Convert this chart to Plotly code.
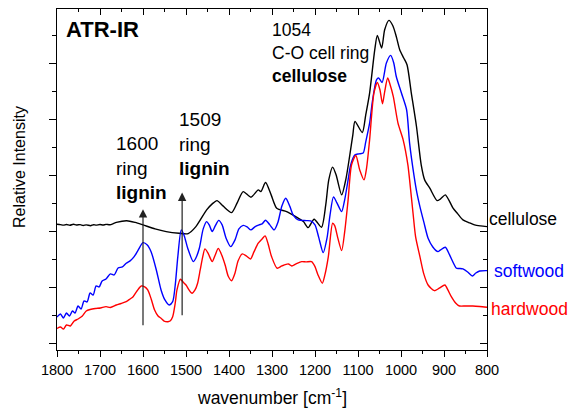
import plotly.graph_objects as go

# ---- data (wavenumber in cm^-1, relative intensity in arbitrary offset units) ----
cell_wn = [1800, 1792, 1785, 1778, 1770, 1762, 1755, 1746, 1739, 1732, 1722, 1715, 1709, 1700, 1693, 1686, 1677,
           1669, 1662, 1638, 1618, 1600, 1572, 1546, 1516, 1495, 1477, 1452, 1439, 1428, 1414, 1394, 1381,
           1367, 1349, 1332, 1326, 1315, 1302, 1289, 1266, 1243, 1227, 1216, 1202, 1185, 1175, 1168,
           1159, 1151, 1138, 1128, 1119, 1112, 1107, 1090, 1082, 1073, 1061, 1055, 1045, 1038, 1028,
           1019, 1011, 1003, 994, 986, 976, 964, 953, 945, 933, 916, 908, 897, 889, 879, 868, 856, 840,
           829, 815, 800]
cell_val = [2.127, 2.120, 2.110, 2.122, 2.108, 2.126, 2.114, 2.120, 2.104, 2.116, 2.100, 2.118, 2.110, 2.122, 2.112, 2.124, 2.118,
            2.138, 2.159, 2.190, 2.159, 2.115, 2.043, 1.995, 1.966, 1.959, 2.084, 2.383, 2.491, 2.550, 2.455, 2.335, 2.509,
            2.711, 2.611, 2.742, 2.711, 2.873, 2.652, 2.414, 2.353, 2.253, 2.174, 2.066, 2.217, 2.073, 2.473, 2.921,
            3.149, 3.011, 2.652, 2.940, 3.369, 3.728, 3.966, 3.769, 4.086, 4.475, 5.251, 5.507, 5.281, 5.609, 5.776,
            5.681, 5.489, 5.251, 5.107, 4.982, 4.475, 3.876, 3.190, 2.921, 2.772, 2.550, 2.581, 2.652, 2.563, 2.414, 2.312, 2.204, 2.150,
            2.115, 2.097, 2.084]

soft_wn = [1800, 1792, 1785, 1778, 1771, 1764, 1758, 1751, 1744, 1737, 1730, 1723, 1716, 1709, 1702, 1695, 1686,
           1676, 1667, 1658, 1648, 1639, 1630, 1621, 1611, 1600, 1590, 1581, 1569, 1558, 1549, 1539, 1531,
           1525, 1519, 1511, 1504, 1496, 1483, 1477, 1469, 1460, 1452, 1446, 1439, 1432, 1424, 1416, 1407,
           1396, 1386, 1377, 1367, 1358, 1349, 1340, 1330, 1323, 1315, 1305, 1295, 1286, 1277, 1268, 1258,
           1251, 1239, 1220, 1210, 1200, 1191, 1181, 1172, 1165, 1157, 1149, 1138, 1131, 1123, 1117, 1107,
           1098, 1088, 1082, 1073, 1066, 1057, 1052, 1044, 1034, 1024, 1017, 1011, 999, 987, 980, 970, 963,
           956, 947, 937, 926, 914, 908, 897, 887, 871, 864, 856, 845, 834, 826, 817, 800]
soft_val = [0.466, 0.520, 0.448, 0.538, 0.484, 0.573, 0.538, 0.663, 0.609, 0.753, 0.735, 0.896, 0.860, 1.021, 1.004, 1.111, 1.147,
            1.237, 1.219, 1.344, 1.362, 1.428, 1.470, 1.541, 1.667, 1.797, 1.756, 1.631, 1.308, 0.950, 0.771, 0.681, 0.740,
            1.039, 1.547, 2.025, 1.918, 1.697, 1.457, 1.523, 1.697, 2.043, 2.174, 2.115, 1.995, 2.097, 2.195, 2.115, 1.882,
            1.726, 1.846, 2.043, 2.106, 2.079, 2.025, 2.079, 2.115, 2.133, 2.199, 2.115, 2.025, 2.168, 2.455, 2.593, 2.437,
            2.294, 2.204, 2.192, 2.186, 2.115, 1.882, 1.618, 1.882, 2.294, 2.616, 2.509, 2.353, 2.563, 2.921, 3.190, 3.369,
            3.387, 3.400, 3.602, 3.937, 4.355, 4.713, 4.744, 4.665, 5.012, 5.149, 5.018, 4.772, 4.475, 4.176, 3.579, 3.011, 2.688,
            2.443, 2.168, 1.876, 1.720, 1.636, 1.667, 1.715, 1.577, 1.339, 1.335, 1.326, 1.272, 1.201, 1.254, 1.290, 1.296]

hard_wn = [1800, 1792, 1785, 1778, 1769, 1760, 1751, 1741, 1732, 1723, 1711, 1699, 1686, 1676, 1662, 1651, 1639,
           1630, 1623, 1614, 1604, 1596, 1589, 1581, 1573, 1565, 1558, 1551, 1542, 1537, 1531, 1525, 1521,
           1513, 1507, 1500, 1493, 1486, 1479, 1473, 1467, 1461, 1456, 1449, 1439, 1432, 1425, 1419, 1409,
           1402, 1394, 1386, 1379, 1369, 1360, 1350, 1342, 1332, 1323, 1316, 1309, 1301, 1288, 1277, 1262,
           1254, 1244, 1231, 1221, 1208, 1200, 1193, 1183, 1177, 1169, 1159, 1154, 1147, 1138, 1131, 1123,
           1115, 1105, 1096, 1086, 1080, 1073, 1063, 1055, 1049, 1043, 1038, 1031, 1026, 1018, 1007, 995,
           984, 980, 972, 966, 956, 947, 937, 922, 910, 898, 891, 883, 873, 864, 850, 833, 817, 800]
hard_val = [0.260, 0.287, 0.251, 0.323, 0.305, 0.394, 0.430, 0.484, 0.573, 0.600, 0.618, 0.627, 0.651, 0.636, 0.681, 0.708, 0.740,
            0.789, 0.830, 0.932, 1.021, 1.004, 0.950, 0.789, 0.591, 0.484, 0.443, 0.394, 0.382, 0.394, 0.471, 0.717, 0.950,
            1.142, 1.093, 1.039, 0.950, 0.891, 0.950, 1.070, 1.308, 1.547, 1.685, 1.613, 1.457, 1.577, 1.694, 1.613, 1.398,
            1.201, 1.116, 1.254, 1.470, 1.595, 1.559, 1.505, 1.631, 1.787, 1.864, 1.918, 1.774, 1.547, 1.339, 1.380, 1.416,
            1.380, 1.416, 1.457, 1.452, 1.457, 1.367, 1.219, 1.070, 1.219, 1.547, 2.145, 2.097, 1.882, 1.654, 1.989, 2.563,
            3.190, 3.357, 3.100, 2.921, 3.136, 3.638, 4.475, 4.665, 4.534, 4.283, 4.498, 4.744, 4.642, 4.414, 3.937, 3.638,
            3.190, 2.921, 2.324, 1.900, 1.547, 1.237, 1.039, 0.937, 0.986, 1.039, 0.950, 0.830, 0.717, 0.663, 0.663, 0.663, 0.654, 0.640]

series_names = ["cellulose", "softwood", "hardwood"]
series_colors = ["#000000", "#0000ff", "#ff0000"]
label_vals = [2.217, 1.296, 0.604]

arrow_wn = [1600, 1509]
arrow_tip = [2.396, 2.694]
arrow_base = [0.292, 0.471]

X_RANGE = [1800, 800]
Y_RANGE = [-0.125, 5.98]
FONT = "Liberation Sans, Arial, sans-serif"

fig = go.Figure()
for wn, val, name, col in zip([cell_wn, soft_wn, hard_wn], [cell_val, soft_val, hard_val], series_names, series_colors):
    fig.add_trace(go.Scatter(x=wn, y=val, mode="lines", name=name,
                             line=dict(color=col, width=1.4, shape="spline", smoothing=0.7),
                             showlegend=False, hoverinfo="skip"))
# dummy trace to activate mirrored axes
fig.add_trace(go.Scatter(x=[None], y=[None], xaxis="x2", yaxis="y2", showlegend=False, hoverinfo="skip"))

common = dict(showgrid=False, zeroline=False, showline=True, linecolor="black", linewidth=1.2, tickcolor="black")
fig.update_layout(
    width=575, height=410,
    margin=dict(l=57, r=88, t=9, b=60),
    paper_bgcolor="white", plot_bgcolor="white",
    font=dict(family=FONT, color="black"),
    hovermode=False,
    xaxis=dict(range=X_RANGE, dtick=100, tick0=800, ticks="outside", ticklen=6, tickwidth=1,
               minor=dict(dtick=50, ticklen=3, ticks="outside", tickcolor="black"),
               tickfont=dict(size=14.5, family=FONT, color="black"), **common),
    yaxis=dict(range=Y_RANGE, dtick=1, tick0=0, ticks="outside", ticklen=7, tickwidth=1,
               minor=dict(dtick=0.5, ticklen=4, ticks="outside", tickcolor="black"),
               showticklabels=False, **common),
    xaxis2=dict(range=X_RANGE, overlaying="x", side="top", dtick=100, tick0=800, ticks="inside", ticklen=6,
                minor=dict(dtick=50, ticklen=3, ticks="inside", tickcolor="black"),
                showticklabels=False, **common),
    yaxis2=dict(range=Y_RANGE, overlaying="y", side="right", dtick=1, tick0=0, ticks="inside", ticklen=7,
                minor=dict(dtick=0.5, ticklen=4, ticks="inside", tickcolor="black"),
                showticklabels=False, **common),
)

ann = []
# arrows
for w, t, b in zip(arrow_wn, arrow_tip, arrow_base):
    ann.append(dict(x=w, y=t, ax=w, ay=b, xref="x", yref="y", axref="x", ayref="y", text="",
                    showarrow=True, arrowhead=2, arrowsize=1.4, arrowwidth=1.2, arrowcolor="#222222"))
# text blocks
ann.append(dict(x=1784, y=5.61, xref="x", yref="y", text="<b>ATR-IR</b>", showarrow=False,
                xanchor="left", yanchor="middle", font=dict(size=22, family=FONT, color="black")))
ann.append(dict(x=1668, y=3.13, xref="x", yref="y", text="1600<br>ring<br><b>lignin</b>", showarrow=False,
                xanchor="left", yanchor="middle", align="left", font=dict(size=19, family=FONT, color="black")))
ann.append(dict(x=1522, y=3.566, xref="x", yref="y", text="1509<br>ring<br><b>lignin</b>", showarrow=False,
                xanchor="left", yanchor="middle", align="left", font=dict(size=19, family=FONT, color="black")))
ann.append(dict(x=1304, y=5.19, xref="x", yref="y", text="1054<br>C-O cell ring<br><b>cellulose</b>", showarrow=False,
                xanchor="left", yanchor="middle", align="left", font=dict(size=17.5, family=FONT, color="black")))
# series labels at right
for name, col, v, xs in zip(series_names, series_colors, label_vals, [0, 5, 2]):
    ann.append(dict(x=1, y=v, xref="paper", yref="y", text=name, showarrow=False, xanchor="left",
                    yanchor="middle", xshift=xs, font=dict(size=17.5, family=FONT, color=col)))
# axis titles
ann.append(dict(x=0.5, y=-0.137, xref="paper", yref="paper", text="wavenumber [cm<sup>-1</sup>]", showarrow=False,
                xanchor="center", yanchor="middle", font=dict(size=17.5, family=FONT, color="black")))
ann.append(dict(x=-0.089, y=0.536, xref="paper", yref="paper", text="Relative Intensity", showarrow=False,
                textangle=-90, xanchor="center", yanchor="middle", font=dict(size=16, family=FONT, color="black")))
fig.update_layout(annotations=ann)

fig.write_html("out.html", config={"displayModeBar": False},
               post_script="document.body.style.margin='0px';document.body.style.padding='0px';")
